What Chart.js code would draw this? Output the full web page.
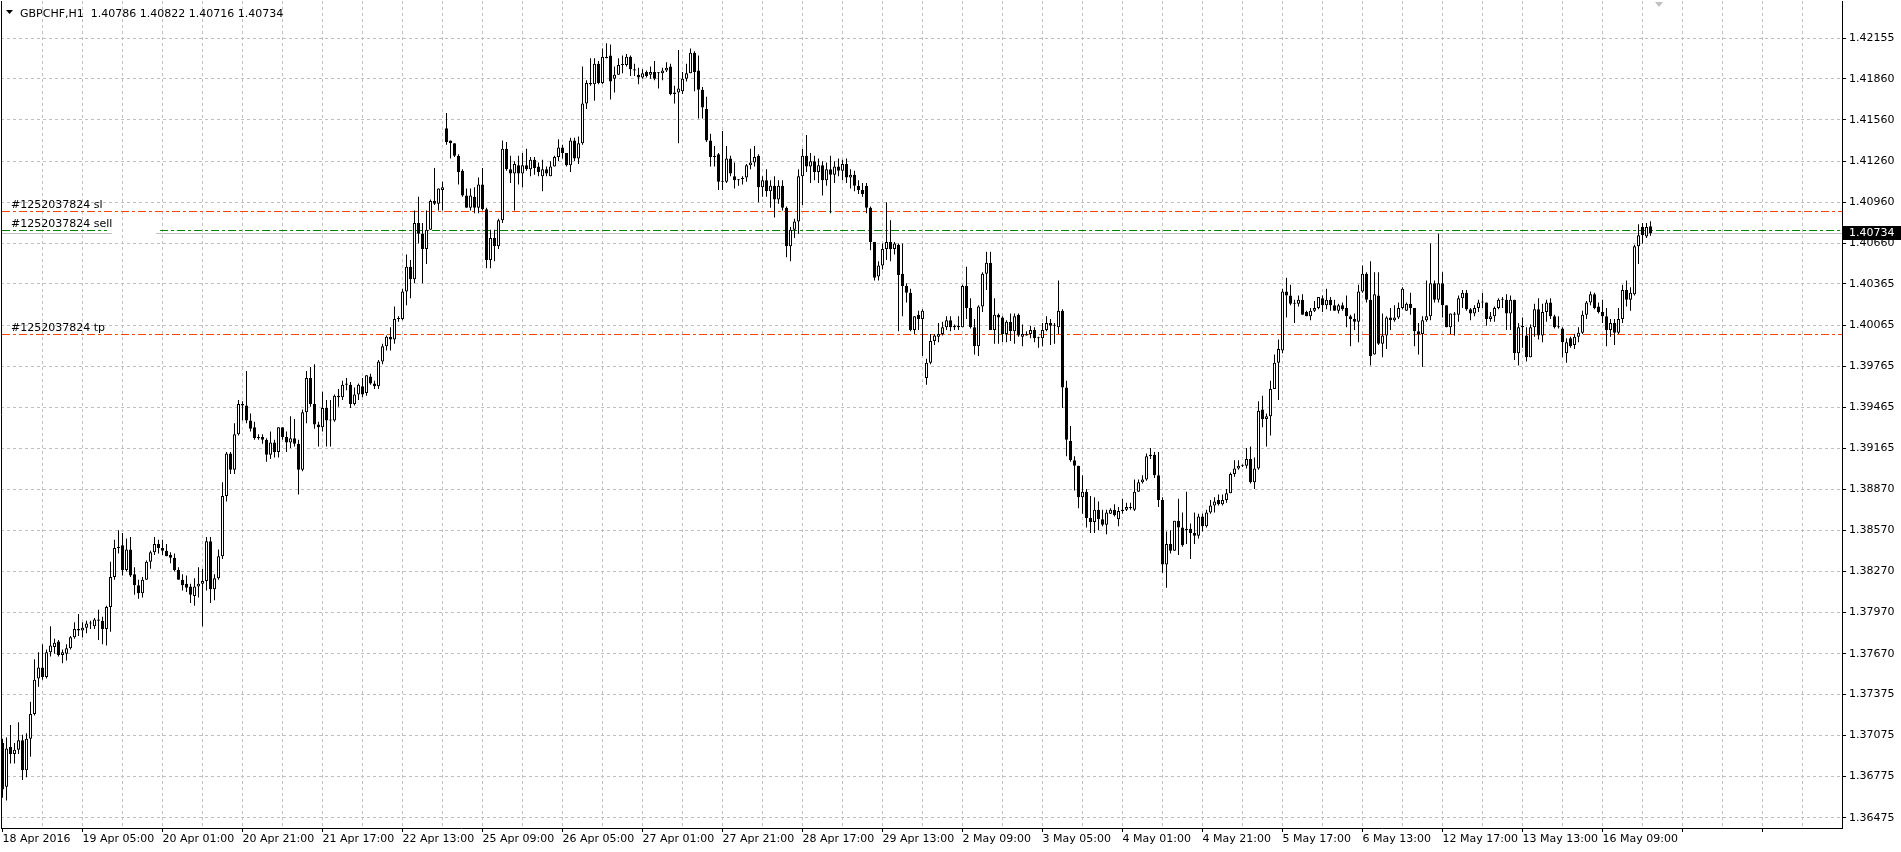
<!DOCTYPE html>
<html>
<head>
<meta charset="utf-8">
<title>GBPCHF,H1</title>
<script src="https://cdn.jsdelivr.net/npm/chart.js@4.4.0/dist/chart.umd.min.js"></script>
<style>
  html, body { margin: 0; padding: 0; background: #ffffff; }
  canvas { display: block; }
</style>
</head>
<body>
<canvas id="my-chart" width="1901" height="852"></canvas>
<script>
'use strict';

// one label every 20 hourly bars
let timeLabels = ['18 Apr 2016', '19 Apr 05:00', '20 Apr 01:00', '20 Apr 21:00', '21 Apr 17:00',
  '22 Apr 13:00', '25 Apr 09:00', '26 Apr 05:00', '27 Apr 01:00', '27 Apr 21:00', '28 Apr 17:00',
  '29 Apr 13:00', '2 May 09:00', '3 May 05:00', '4 May 01:00', '4 May 21:00', '5 May 17:00',
  '6 May 13:00', '12 May 17:00', '13 May 13:00', '16 May 09:00'];

let priceTicks = [1.42155, 1.41860, 1.41560, 1.41260, 1.40960, 1.40660, 1.40365, 1.40065, 1.39765,
  1.39465, 1.39165, 1.38870, 1.38570, 1.38270, 1.37970, 1.37670, 1.37375, 1.37075, 1.36775, 1.36475];

let opens = [
  1.3702,1.3670,1.3699,1.3694,1.3697,1.3704,1.3682,1.3705,1.3723,1.3749,
  1.3757,1.3750,1.3768,1.3772,1.3776,1.3766,1.3767,1.3771,1.3779,1.3785,
  1.3784,1.3786,1.3789,1.3787,1.3792,1.3791,1.3785,1.3801,1.3823,1.3844,
  1.3846,1.3828,1.3843,1.3825,1.3817,1.3811,1.3821,1.3834,1.3841,1.3847,
  1.3844,1.3842,1.3839,1.3837,1.3828,1.3821,1.3818,1.3816,1.3809,1.3816,
  1.3818,1.3820,1.3849,1.3814,1.3822,1.3838,1.3882,1.3913,1.3901,1.3927,
  1.3949,1.3948,1.3937,1.3932,1.3924,1.3925,1.3923,1.3912,1.3921,1.3914,
  1.3932,1.3925,1.3921,1.3924,1.3920,1.3901,1.3943,1.3968,1.3949,1.3934,
  1.3932,1.3946,1.3937,1.3937,1.3955,1.3954,1.3963,1.3963,1.3949,1.3956,
  1.3962,1.3957,1.3969,1.3964,1.3962,1.3980,1.3991,1.3998,1.3996,1.4011,
  1.4011,1.4031,1.4049,1.4040,1.4081,1.4073,1.4062,1.4076,1.4097,1.4095,
  1.4105,1.4150,1.4141,1.4139,1.4130,1.4119,1.4101,1.4092,1.4100,1.4092,
  1.4109,1.4091,1.4054,1.4070,1.4064,1.4083,1.4135,1.4120,1.4117,1.4123,
  1.4117,1.4123,1.4120,1.4127,1.4122,1.4115,1.4120,1.4115,1.4122,1.4129,
  1.4136,1.4132,1.4123,1.4141,1.4128,1.4139,1.4168,1.4183,1.4182,1.4197,
  1.4183,1.4202,1.4203,1.4186,1.4189,1.4196,1.4196,1.4202,1.4193,1.4189,
  1.4187,1.4191,1.4189,1.4191,1.4190,1.4190,1.4192,1.4195,1.4175,1.4176,
  1.4177,1.4186,1.4190,1.4205,1.4192,1.4178,1.4164,1.4141,1.4129,1.4131,
  1.4111,1.4111,1.4128,1.4115,1.4112,1.4113,1.4114,1.4123,1.4125,1.4130,
  1.4107,1.4112,1.4104,1.4108,1.4098,1.4108,1.4092,1.4064,1.4076,1.4082,
  1.4115,1.4130,1.4122,1.4126,1.4118,1.4123,1.4112,1.4120,1.4116,1.4122,
  1.4119,1.4124,1.4114,1.4116,1.4108,1.4105,1.4108,1.4092,1.4067,1.4042,
  1.4050,1.4062,1.4067,1.4062,1.4065,1.4044,1.4035,1.4030,1.4003,1.4014,
  1.4011,1.3968,1.3979,1.3995,1.3998,1.4000,1.4005,1.4010,1.4005,1.4006,
  1.4005,1.4035,1.4019,1.4005,1.3991,1.4020,1.4044,1.4052,1.4003,1.4014,
  1.4012,1.4000,1.4009,1.4002,1.4014,1.3998,1.3999,1.4000,1.4003,1.3997,
  1.3997,1.4003,1.4008,1.4006,1.4005,1.4017,1.3961,1.3922,1.3908,1.3904,
  1.3881,1.3885,1.3866,1.3863,1.3872,1.3865,1.3861,1.3869,1.3872,1.3865,
  1.3871,1.3872,1.3874,1.3872,1.3885,1.3892,1.3894,1.3911,1.3912,1.3897,
  1.3879,1.3832,1.3847,1.3842,1.3864,1.3859,1.3858,1.3858,1.3855,1.3853,
  1.3867,1.3860,1.3870,1.3875,1.3879,1.3876,1.3879,1.3884,1.3898,1.3902,
  1.3904,1.3904,1.3909,1.3892,1.3902,1.3945,1.3938,1.3940,1.3960,1.3979,
  1.3988,1.4031,1.4028,1.4022,1.4022,1.4025,1.4016,1.4013,1.4017,1.4019,
  1.4026,1.4021,1.4025,1.4021,1.4017,1.4021,1.4019,1.4013,1.4011,1.4009,
  1.4031,1.4044,1.4025,1.3985,1.4028,1.3993,1.3999,1.4012,1.4010,1.4012,
  1.4019,1.4017,1.4022,1.4019,1.4002,1.4000,1.4010,1.4013,1.4037,1.4025,
  1.4037,1.4021,1.4005,1.4015,1.4014,1.4026,1.4030,1.4018,1.4015,1.4019,
  1.4023,1.4023,1.4011,1.4013,1.4019,1.4025,1.4025,1.4015,1.4025,1.3986,
  1.4005,1.3999,1.3983,1.4005,1.4018,1.3999,1.4016,1.4023,1.4013,1.4005,
  1.4004,1.3986,1.3997,1.3992,1.3998,1.4001,1.4014,1.4023,1.4029,1.4020,
  1.4016,1.4013,1.4003,1.4008,1.4001,1.4011,1.4032,1.4025,1.4029,1.4064,
  1.4078,1.4071,1.40786
];

let highs = [
  1.3705,1.3706,1.3715,1.3702,1.3717,1.3708,1.3709,1.3732,1.3763,1.3768,
  1.3774,1.3770,1.3787,1.3778,1.3777,1.3770,1.3774,1.3780,1.3790,1.3796,
  1.3790,1.3791,1.3791,1.3793,1.3799,1.3794,1.3802,1.3834,1.3850,1.3857,
  1.3855,1.3851,1.3852,1.3830,1.3821,1.3823,1.3835,1.3842,1.3852,1.3850,
  1.3850,1.3847,1.3841,1.3840,1.3830,1.3825,1.3824,1.3818,1.3822,1.3830,
  1.3829,1.3852,1.3852,1.3825,1.3843,1.3892,1.3914,1.3914,1.3935,1.3952,
  1.3951,1.3973,1.3942,1.3936,1.3927,1.3927,1.3924,1.3929,1.3923,1.3932,
  1.3932,1.3929,1.3940,1.3938,1.3923,1.3945,1.3973,1.3976,1.3978,1.3936,
  1.3958,1.3952,1.3952,1.3956,1.3960,1.3966,1.3968,1.3965,1.3961,1.3964,
  1.3968,1.3970,1.3971,1.3966,1.3981,1.3993,1.3999,1.4005,1.4020,1.4013,
  1.4033,1.4058,1.4054,1.4090,1.4100,1.4081,1.4090,1.4098,1.4121,1.4106,
  1.4111,1.4161,1.4141,1.4139,1.4131,1.4120,1.4106,1.4106,1.4107,1.4114,
  1.4121,1.4092,1.4076,1.4076,1.4084,1.4141,1.4140,1.4130,1.4126,1.4130,
  1.4132,1.4135,1.4129,1.4129,1.4125,1.4127,1.4122,1.4126,1.4130,1.4142,
  1.4138,1.4132,1.4143,1.4143,1.4144,1.4195,1.4185,1.4201,1.4201,1.4199,
  1.4208,1.4212,1.4211,1.4195,1.4201,1.4203,1.4204,1.4203,1.4197,1.4194,
  1.4193,1.4192,1.4195,1.4199,1.4191,1.4194,1.4198,1.4197,1.4181,1.4207,
  1.4191,1.4197,1.4208,1.4206,1.4203,1.4180,1.4173,1.4146,1.4137,1.4132,
  1.4148,1.4137,1.4130,1.4125,1.4113,1.4115,1.4124,1.4135,1.4137,1.4131,
  1.4115,1.4120,1.4112,1.4115,1.4112,1.4112,1.4093,1.4078,1.4084,1.4120,
  1.4135,1.4145,1.4132,1.4130,1.4128,1.4126,1.4125,1.4130,1.4126,1.4128,
  1.4127,1.4128,1.4120,1.4119,1.4112,1.4110,1.4110,1.4093,1.4067,1.4053,
  1.4066,1.4096,1.4083,1.4067,1.4066,1.4066,1.4037,1.4033,1.4013,1.4017,
  1.4018,1.3982,1.4000,1.4000,1.4008,1.4009,1.4013,1.4013,1.4007,1.4013,
  1.4036,1.4049,1.4026,1.4011,1.4021,1.4045,1.4060,1.4060,1.4026,1.4015,
  1.4013,1.4010,1.4015,1.4015,1.4015,1.4007,1.4002,1.4006,1.4005,1.3998,
  1.4008,1.4013,1.4011,1.4008,1.4039,1.4018,1.3966,1.3933,1.3911,1.3904,
  1.3897,1.3887,1.3882,1.3881,1.3878,1.3872,1.3872,1.3873,1.3876,1.3874,
  1.3880,1.3877,1.3877,1.3894,1.3894,1.3897,1.3913,1.3917,1.3914,1.3914,
  1.3881,1.3856,1.3857,1.3864,1.3880,1.3870,1.3885,1.3862,1.3870,1.3869,
  1.3869,1.3872,1.3879,1.3881,1.3883,1.3883,1.3887,1.3899,1.3908,1.3908,
  1.3905,1.3917,1.3918,1.3910,1.3951,1.3955,1.3942,1.3966,1.3985,1.3996,
  1.4033,1.4041,1.4036,1.4025,1.4028,1.4029,1.4017,1.4019,1.4024,1.4027,
  1.4028,1.4033,1.4027,1.4025,1.4022,1.4023,1.4028,1.4014,1.4015,1.4036,
  1.4050,1.4045,1.4053,1.4045,1.4045,1.4015,1.4013,1.4019,1.4021,1.4023,
  1.4034,1.4023,1.4030,1.4019,1.4008,1.4013,1.4039,1.4066,1.4039,1.4073,
  1.4045,1.4021,1.4015,1.4016,1.4028,1.4032,1.4032,1.4019,1.4021,1.4025,
  1.4030,1.4023,1.4016,1.4020,1.4026,1.4027,1.4029,1.4028,1.4025,1.4008,
  1.4012,1.4005,1.4007,1.4022,1.4026,1.4022,1.4025,1.4026,1.4014,1.4013,
  1.4005,1.3997,1.3998,1.4000,1.4005,1.4017,1.4024,1.4031,1.4030,1.4023,
  1.4025,1.4019,1.4011,1.4011,1.4019,1.4036,1.4039,1.4034,1.4065,1.4080,
  1.4081,1.4081,1.40822
];

let lows = [
  1.3662,1.3660,1.3687,1.3687,1.3694,1.3675,1.3677,1.3692,1.3722,1.3743,
  1.3748,1.3749,1.3765,1.3767,1.3765,1.3760,1.3762,1.3770,1.3778,1.3780,
  1.3779,1.3782,1.3785,1.3785,1.3777,1.3774,1.3773,1.3783,1.3821,1.3840,
  1.3824,1.3827,1.3823,1.3810,1.3807,1.3808,1.3821,1.3829,1.3839,1.3840,
  1.3839,1.3838,1.3833,1.3827,1.3821,1.3813,1.3812,1.3804,1.3802,1.3808,
  1.3787,1.3813,1.3804,1.3806,1.3821,1.3836,1.3878,1.3898,1.3898,1.3926,
  1.3937,1.3935,1.3929,1.3923,1.3923,1.3920,1.3907,1.3909,1.3910,1.3910,
  1.3923,1.3914,1.3917,1.3918,1.3883,1.3900,1.3935,1.3947,1.3931,1.3918,
  1.3929,1.3918,1.3918,1.3936,1.3947,1.3952,1.3959,1.3946,1.3948,1.3952,
  1.3954,1.3955,1.3963,1.3960,1.3960,1.3978,1.3988,1.3988,1.3993,1.4009,
  1.4010,1.4021,1.4026,1.4037,1.4066,1.4037,1.4051,1.4076,1.4094,1.4090,
  1.4090,1.4138,1.4128,1.4129,1.4109,1.4100,1.4092,1.4090,1.4088,1.4088,
  1.4090,1.4048,1.4048,1.4053,1.4062,1.4081,1.4119,1.4110,1.4090,1.4109,
  1.4107,1.4119,1.4115,1.4116,1.4115,1.4104,1.4115,1.4115,1.4122,1.4126,
  1.4128,1.4122,1.4118,1.4126,1.4124,1.4138,1.4164,1.4181,1.4170,1.4182,
  1.4182,1.4201,1.4171,1.4176,1.4189,1.4190,1.4195,1.4188,1.4188,1.4182,
  1.4186,1.4187,1.4186,1.4185,1.4179,1.4185,1.4191,1.4174,1.4168,1.4139,
  1.4175,1.4184,1.4190,1.4177,1.4157,1.4157,1.4140,1.4122,1.4122,1.4105,
  1.4105,1.4110,1.4115,1.4106,1.4108,1.4109,1.4111,1.4120,1.4122,1.4096,
  1.4100,1.4100,1.4092,1.4085,1.4095,1.4090,1.4056,1.4053,1.4070,1.4073,
  1.4094,1.4118,1.4110,1.4112,1.4110,1.4101,1.4108,1.4088,1.4110,1.4115,
  1.4112,1.4110,1.4106,1.4104,1.4102,1.4100,1.4088,1.4061,1.4039,1.4039,
  1.4047,1.4054,1.4053,1.4058,1.4002,1.4013,1.4023,1.4002,1.4000,1.4003,
  1.3984,1.3963,1.3978,1.3992,1.3994,1.3999,1.4003,1.4002,1.4003,1.4003,
  1.4005,1.4011,1.4004,1.3985,1.3984,1.4016,1.4032,1.4003,1.3993,1.3993,
  1.3994,1.3994,1.3995,1.3993,1.3998,1.3991,1.3999,1.3997,1.3994,1.3990,
  1.3991,1.4002,1.3992,1.3993,1.4000,1.3946,1.3911,1.3907,1.3886,1.3873,
  1.3869,1.3859,1.3855,1.3855,1.3857,1.3860,1.3854,1.3869,1.3867,1.3860,
  1.3869,1.3871,1.3872,1.3871,1.3885,1.3891,1.3893,1.3909,1.3895,1.3874,
  1.3826,1.3815,1.3840,1.3842,1.3839,1.3845,1.3847,1.3836,1.3847,1.3851,
  1.3856,1.3859,1.3869,1.3870,1.3875,1.3875,1.3877,1.3884,1.3896,1.3901,
  1.3903,1.3902,1.3891,1.3887,1.3901,1.3932,1.3918,1.3926,1.3960,1.3952,
  1.3986,1.4012,1.4021,1.4008,1.4020,1.4014,1.4013,1.4010,1.4016,1.4018,
  1.4016,1.4018,1.4017,1.4017,1.4015,1.4017,1.4005,1.3991,1.4003,1.3994,
  1.4030,1.4023,1.3977,1.3985,1.3992,1.3983,1.3989,1.4003,1.4009,1.4011,
  1.4018,1.4017,1.4014,1.3991,1.3985,1.3976,1.4009,1.4010,1.4023,1.4023,
  1.4012,1.4005,1.4000,1.3999,1.4009,1.4019,1.4017,1.4010,1.4013,1.4016,
  1.4019,1.4006,1.4009,1.4009,1.4018,1.4019,1.4003,1.4003,1.3981,1.3977,
  1.3990,1.3980,1.3983,1.3998,1.3996,1.3994,1.4009,1.4011,1.4004,1.4004,
  1.3983,1.3979,1.3990,1.3989,1.3994,1.4000,1.4011,1.4021,1.4018,1.4015,
  1.4008,1.3991,1.3998,1.3992,1.4000,1.4008,1.4020,1.4017,1.4028,1.4051,
  1.4066,1.4070,1.40716
];

let closes = [
  1.3668,1.3698,1.3694,1.3697,1.3704,1.3682,1.3705,1.3723,1.3748,1.3757,
  1.3750,1.3768,1.3773,1.3775,1.3766,1.3768,1.3771,1.3779,1.3785,1.3784,
  1.3786,1.3789,1.3789,1.3792,1.3791,1.3785,1.3801,1.3823,1.3844,1.3845,
  1.3828,1.3843,1.3824,1.3817,1.3811,1.3821,1.3834,1.3841,1.3847,1.3844,
  1.3842,1.3838,1.3837,1.3828,1.3821,1.3817,1.3815,1.3810,1.3816,1.3818,
  1.3820,1.3849,1.3814,1.3822,1.3838,1.3882,1.3913,1.3901,1.3927,1.3949,
  1.3948,1.3937,1.3931,1.3924,1.3925,1.3923,1.3912,1.3921,1.3914,1.3932,
  1.3925,1.3921,1.3924,1.3920,1.3901,1.3943,1.3968,1.3949,1.3934,1.3932,
  1.3946,1.3937,1.3937,1.3955,1.3954,1.3963,1.3964,1.3949,1.3956,1.3963,
  1.3956,1.3970,1.3964,1.3962,1.3980,1.3991,1.3998,1.3996,1.4011,1.4011,
  1.4031,1.4049,1.4040,1.4081,1.4073,1.4062,1.4076,1.4097,1.4095,1.4106,
  1.4107,1.4140,1.4139,1.4130,1.4118,1.4101,1.4092,1.4101,1.4092,1.4109,
  1.4091,1.4054,1.4070,1.4064,1.4083,1.4135,1.4120,1.4117,1.4124,1.4117,
  1.4123,1.4120,1.4127,1.4121,1.4118,1.4120,1.4117,1.4122,1.4129,1.4136,
  1.4132,1.4123,1.4141,1.4128,1.4139,1.4168,1.4183,1.4182,1.4197,1.4183,
  1.4202,1.4201,1.4184,1.4189,1.4196,1.4196,1.4202,1.4193,1.4192,1.4187,
  1.4190,1.4188,1.4191,1.4186,1.4190,1.4192,1.4194,1.4175,1.4176,1.4179,
  1.4186,1.4190,1.4205,1.4191,1.4178,1.4165,1.4141,1.4129,1.4130,1.4111,
  1.4111,1.4128,1.4117,1.4112,1.4112,1.4113,1.4123,1.4125,1.4129,1.4107,
  1.4112,1.4104,1.4108,1.4098,1.4108,1.4092,1.4064,1.4076,1.4082,1.4115,
  1.4130,1.4122,1.4126,1.4118,1.4123,1.4112,1.4120,1.4116,1.4122,1.4119,
  1.4124,1.4114,1.4116,1.4108,1.4105,1.4102,1.4092,1.4067,1.4041,1.4050,
  1.4062,1.4067,1.4062,1.4066,1.4043,1.4035,1.4030,1.4003,1.4013,1.4011,
  1.4017,1.3979,1.3995,1.3999,1.4000,1.4005,1.4010,1.4005,1.4006,1.4005,
  1.4035,1.4019,1.4005,1.3991,1.4020,1.4044,1.4052,1.4003,1.4014,1.4012,
  1.4000,1.4009,1.4002,1.4013,1.3999,1.4000,1.4000,1.4003,1.3997,1.3997,
  1.4003,1.4008,1.4006,1.4006,1.4017,1.3961,1.3923,1.3908,1.3904,1.3881,
  1.3885,1.3866,1.3863,1.3872,1.3865,1.3861,1.3870,1.3872,1.3868,1.3871,
  1.3872,1.3874,1.3873,1.3885,1.3892,1.3894,1.3911,1.3912,1.3897,1.3879,
  1.3832,1.3847,1.3842,1.3864,1.3859,1.3846,1.3857,1.3855,1.3853,1.3867,
  1.3860,1.3870,1.3875,1.3878,1.3876,1.3879,1.3884,1.3898,1.3902,1.3904,
  1.3904,1.3909,1.3892,1.3902,1.3944,1.3938,1.3940,1.3960,1.3979,1.3989,
  1.4031,1.4028,1.4022,1.4022,1.4025,1.4014,1.4013,1.4017,1.4019,1.4027,
  1.4021,1.4025,1.4021,1.4017,1.4021,1.4018,1.4013,1.4011,1.4009,1.4031,
  1.4044,1.4025,1.3984,1.4029,1.3993,1.3999,1.4012,1.4010,1.4012,1.4019,
  1.4033,1.4022,1.4019,1.4002,1.4000,1.4010,1.4013,1.4037,1.4025,1.4037,
  1.4021,1.4005,1.4015,1.4014,1.4026,1.4030,1.4018,1.4015,1.4019,1.4023,
  1.4023,1.4011,1.4013,1.4019,1.4025,1.4025,1.4015,1.4025,1.3986,1.4005,
  1.4006,1.3983,1.4005,1.4018,1.3999,1.4016,1.4023,1.4013,1.4005,1.4005,
  1.3994,1.3994,1.3991,1.3998,1.4001,1.4014,1.4023,1.4029,1.4019,1.4016,
  1.4013,1.4003,1.4008,1.4001,1.4011,1.4032,1.4025,1.4030,1.4064,1.4072,
  1.4072,1.4078,1.40734
];

let orderNames = ['#1252037824 sl', '#1252037824 sell', '#1252037824 tp'];
let orderLevels = [1.40900, 1.40757, 1.40000];
let orderColors = ['#ff4500', '#008000', '#ff4500'];
let bidPrice = 1.40734;
let headerText = 'GBPCHF,H1  1.40786 1.40822 1.40716 1.40734';

let canvasElem = document.getElementById('my-chart');
let fontFamily = "'DejaVu Sans', Verdana, sans-serif";

// x is the bar number; one bar every 4 px
let xMin = -0.375;
let xMax = 459.875;

function renderChart() {

  let wickData = [];
  let bodyData = [];
  let bodyColors = [];

  for (let i = 0; i < closes.length; i++) {
    wickData.push({x: i, y: [lows[i], highs[i]]});
    bodyData.push({x: i, y: [Math.min(opens[i], closes[i]), Math.max(opens[i], closes[i])]});
    bodyColors.push(closes[i] >= opens[i] ? '#ffffff' : '#000000');
  }

  // horizontal level, snapped to the pixel grid, between two bar positions
  function hLine(chart, value, from, to, color, dash) {
    let ctx = chart.ctx;
    let xs = chart.scales.x;
    let py = Math.round(chart.scales.y.getPixelForValue(value)) + 0.5;
    ctx.save();
    ctx.strokeStyle = color;
    ctx.lineWidth = 1;
    ctx.setLineDash(dash);
    ctx.beginPath();
    ctx.moveTo(Math.max(xs.getPixelForValue(from), chart.chartArea.left + 1), py);
    ctx.lineTo(Math.min(xs.getPixelForValue(to), chart.chartArea.right), py);
    ctx.stroke();
    ctx.restore();
  }

  let dashDot = [8, 3, 3, 3];

  let chartObj = {
    type: 'bar',
    data: {
      datasets: [{
        label: 'body',
        data: bodyData,
        backgroundColor: bodyColors,
        borderColor: '#000000',
        borderWidth: 1,
        borderSkipped: false,
        barThickness: 3,
        minBarLength: 1,
        inflateAmount: 0,
        grouped: false,
        order: 1
      },
      {
        label: 'wick',
        data: wickData,
        backgroundColor: '#000000',
        borderWidth: 0,
        barThickness: 1,
        inflateAmount: 0,
        grouped: false,
        order: 2
      }]
    },
    options: {
      responsive: false,
      animation: false,
      devicePixelRatio: 1,
      layout: {
        autoPadding: false,
        padding: {left: 1, top: 1, right: 0, bottom: 0}
      },
      plugins: {
        legend: {display: false},
        tooltip: {enabled: false},
        title: {display: false}
      },
      scales: {
        x: {
          type: 'linear',
          position: 'bottom',
          min: xMin,
          max: xMax,
          offset: false,
          afterBuildTicks: function (scale) {
            let ticks = [];
            for (let v = 0; v <= 450; v += 10) {
              ticks.push({value: v});
            }
            scale.ticks = ticks;
          },
          afterFit: function (scale) {
            scale.height = 24;
            scale.paddingLeft = 0;
            scale.paddingRight = 0;
          },
          grid: {
            offset: false,
            color: function (ctx) {
              return ctx.tick && ctx.tick.value === 0 ? 'rgba(0,0,0,0)' : '#c0c0c0';
            },
            tickColor: function (ctx) {
              return ctx.tick && ctx.tick.value % 20 === 0 ? '#000000' : 'rgba(0,0,0,0)';
            },
            tickLength: 4
          },
          border: {display: true, color: '#000000', dash: [3, 3]},
          ticks: {
            autoSkip: false,
            maxRotation: 0,
            minRotation: 0,
            align: 'start',
            padding: 1,
            color: '#000000',
            font: {family: fontFamily, size: 11},
            callback: function (value) {
              let k = value / 20;
              return (value % 20 === 0 && timeLabels[k] !== undefined) ? timeLabels[k] : '';
            }
          }
        },
        y: {
          type: 'linear',
          position: 'right',
          min: 1.36400,
          max: 1.42427,
          afterBuildTicks: function (scale) {
            scale.ticks = priceTicks.map(function (v) { return {value: v}; });
          },
          afterFit: function (scale) {
            scale.width = 59;
            scale.paddingTop = 0;
            scale.paddingBottom = 0;
          },
          grid: {
            color: '#c0c0c0',
            tickColor: '#000000',
            tickLength: 4
          },
          border: {display: true, color: '#000000', dash: [3, 3]},
          ticks: {
            autoSkip: false,
            padding: 3,
            color: '#000000',
            font: {family: fontFamily, size: 11},
            callback: function (value) {
              return value.toFixed(5);
            }
          }
        }
      }
    },
    plugins: [{
      id: 'orderLines',
      beforeDatasetsDraw: function (chart) {
        // bid line, broken where the sell label sits
        hLine(chart, bidPrice, xMin, 27.4, '#c0c0c0', []);
        hLine(chart, bidPrice, 38.4, xMax, '#c0c0c0', []);
        hLine(chart, orderLevels[0], xMin, xMax, orderColors[0], dashDot);
        hLine(chart, orderLevels[2], xMin, xMax, orderColors[2], dashDot);
        hLine(chart, orderLevels[1], xMin, 26.1, orderColors[1], dashDot);
        hLine(chart, orderLevels[1], 39.4, xMax, orderColors[1], dashDot);
      }
    },
    {
      id: 'terminalDecor',
      afterDraw: function (chart) {
        let ctx = chart.ctx;
        let area = chart.chartArea;
        let yScale = chart.scales.y;
        ctx.save();

        // frame on the left
        ctx.strokeStyle = '#000000';
        ctx.lineWidth = 1;
        ctx.beginPath();
        ctx.moveTo(area.left + 0.5, area.top);
        ctx.lineTo(area.left + 0.5, area.bottom);
        ctx.stroke();

        // symbol header
        ctx.fillStyle = '#000000';
        ctx.beginPath();
        ctx.moveTo(6, 10);
        ctx.lineTo(13, 10);
        ctx.lineTo(9.5, 14);
        ctx.closePath();
        ctx.fill();
        ctx.font = '11px ' + fontFamily;
        ctx.textBaseline = 'alphabetic';
        ctx.textAlign = 'left';
        ctx.fillText(headerText, 20, 17);

        // order labels above their lines
        for (let i = 0; i < orderNames.length; i++) {
          let py = Math.round(yScale.getPixelForValue(orderLevels[i]));
          ctx.fillText(orderNames[i], 11, py - 3);
        }

        // shift marker at the top
        let shiftX = Math.round(chart.scales.x.getPixelForValue(closes.length + 1));
        ctx.fillStyle = '#c0c0c0';
        ctx.beginPath();
        ctx.moveTo(shiftX - 4, area.top + 1);
        ctx.lineTo(shiftX + 4, area.top + 1);
        ctx.lineTo(shiftX, area.top + 6);
        ctx.closePath();
        ctx.fill();

        // bid price box on the price axis
        let by = Math.round(yScale.getPixelForValue(bidPrice));
        ctx.fillStyle = '#000000';
        ctx.fillRect(area.right + 1, by - 7, chart.width - area.right - 1, 14);
        ctx.fillStyle = '#ffffff';
        ctx.textBaseline = 'middle';
        ctx.fillText(bidPrice.toFixed(5), area.right + 7, by);
        ctx.restore();
      }
    }]
  };

  new Chart(canvasElem, chartObj); //eslint-disable-line
}

renderChart();
</script>
</body>
</html>
